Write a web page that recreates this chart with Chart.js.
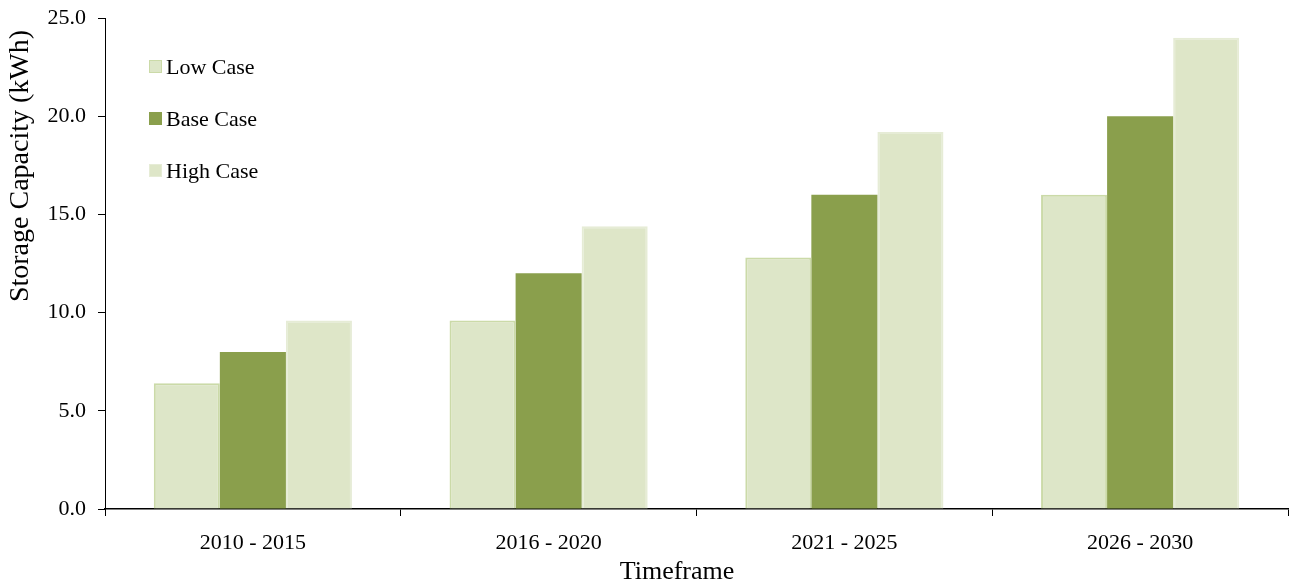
<!DOCTYPE html>
<html><head><meta charset="utf-8">
<script src="https://cdn.jsdelivr.net/npm/chart.js@4/dist/chart.umd.min.js"></script>
<style>html,body{margin:0;padding:0;background:#fff}#wrap{width:1289px;height:586px;position:relative}</style>
</head><body><div id="wrap"><canvas id="c" width="1289" height="586"></canvas></div>
<script>
const categories = ["2010 - 2015", "2016 - 2020", "2021 - 2025", "2026 - 2030"];
const lowCase = [6.4, 9.6, 12.8, 16.0];
const baseCase = [8.0, 12.0, 16.0, 20.0];
const highCase = [9.6, 14.4, 19.2, 24.0];
const seriesNames = ["Low Case", "Base Case", "High Case"];
const xTitle = "Timeframe";
const yTitle = "Storage Capacity (kWh)";

const FONT = "'Liberation Serif', 'Times New Roman', serif";

const labelsPlugin = {
  id: 'customLabels',
  afterDraw(chart) {
    const ctx = chart.ctx;
    ctx.save();
    chart.data.datasets.forEach((ds, i) => {
      const y = 67 + i * 52;
      ctx.fillStyle = ds.backgroundColor;
      ctx.fillRect(149, y - 7, 13, 13);
      ctx.strokeStyle = ds.borderColor;
      ctx.lineWidth = 1;
      ctx.strokeRect(149.5, y - 6.5, 12, 12);
      ctx.fillStyle = '#000';
      ctx.font = "22px " + FONT;
      ctx.textBaseline = 'middle';
      ctx.textAlign = 'left';
      ctx.fillText(ds.label, 166, y + 1);
    });
    // axis titles
    ctx.fillStyle = '#000';
    ctx.textAlign = 'center';
    ctx.textBaseline = 'middle';
    ctx.font = "26px " + FONT;
    ctx.fillText(xTitle, 677, 572);
    ctx.translate(21, 166);
    ctx.rotate(-Math.PI / 2);
    ctx.font = "28px " + FONT;
    ctx.fillText(yTitle, 0, 0);
    ctx.restore();
  }
};

new Chart(document.getElementById('c'), {
  type: 'bar',
  data: {
    labels: categories,
    datasets: [
      { label: seriesNames[0], data: lowCase, backgroundColor: '#dde6c8', borderColor: '#cbdaa8', borderWidth: 2 },
      { label: seriesNames[1], data: baseCase, backgroundColor: '#8a9f4c', borderColor: '#8a9f4c', borderWidth: 0 },
      { label: seriesNames[2], data: highCase, backgroundColor: '#dee6c8', borderColor: '#e6ecd6', borderWidth: 2 }
    ]
  },
  options: {
    responsive: false,
    animation: false,
    devicePixelRatio: 1,
    layout: { padding: { top: 18, right: 1, left: 0, bottom: 0 } },
    datasets: { bar: { categoryPercentage: 0.67, barPercentage: 1.0 } },
    plugins: { legend: { display: false }, tooltip: { enabled: false } },
    scales: {
      x: {
        grid: { offset: true, drawOnChartArea: false, tickLength: 7, color: '#000' },
        border: { color: '#000', width: 1.5 },
        ticks: { color: '#000', font: { family: FONT, size: 22 }, padding: 14 },
        afterFit(s) { s.height = 77; s.paddingLeft = 0; s.paddingRight = 0; }
      },
      y: {
        min: 0, max: 25,
        grid: { drawOnChartArea: false, tickLength: 7, color: '#000' },
        border: { color: '#000', width: 1 },
        ticks: { stepSize: 5, color: '#000', font: { family: FONT, size: 22 }, padding: 12,
          callback: v => v.toFixed(1) },
        afterFit(s) { s.width = 105; s.paddingTop = 0; s.paddingBottom = 0; }
      }
    }
  },
  plugins: [labelsPlugin]
});
</script></body></html>
